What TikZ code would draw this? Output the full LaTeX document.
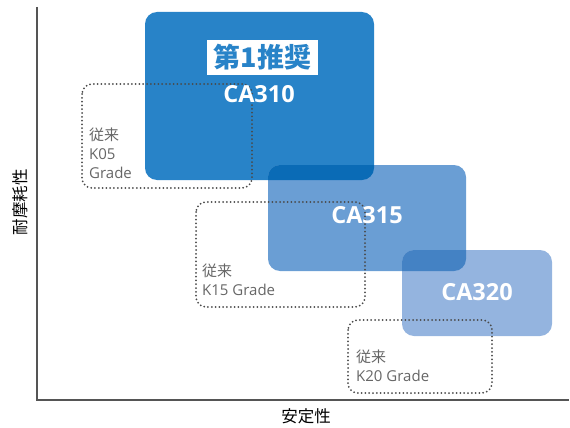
\documentclass[tikz,border=0pt]{standalone}
\usepackage{fontspec}
\setmainfont{Open Sans}
\newfontfamily\jp{Noto Sans CJK JP}
\definecolor{c310}{HTML}{2883C8}
\definecolor{c315}{HTML}{6A9ED4}
\definecolor{c320}{HTML}{94B4DF}
\definecolor{o1}{HTML}{0A6BB6}
\definecolor{o2}{HTML}{4482C4}
\definecolor{axisgray}{HTML}{555555}
\definecolor{dotgray}{HTML}{4A4A4A}
\definecolor{txtgray}{HTML}{666666}
\tikzset{
  prodbox/.style={rounded corners=12pt},
  oldbox/.style={draw=dotgray, line width=2pt, line cap=round, dash pattern=on 0pt off 3.8pt, rounded corners=10pt},
  prodlabel/.style={text=white, font=\bfseries\fontsize{23.5}{26}\selectfont, inner sep=0pt},
  oldlabel/.style={text=txtgray, font=\fontsize{15}{19}\selectfont, align=left, anchor=north west, inner sep=0pt},
  axislabel/.style={text=black, font=\jp\fontsize{16.5}{18}\selectfont, inner sep=0pt},
}
\begin{document}
\begin{tikzpicture}[x=1pt,y=-1pt]
\useasboundingbox (0,0) rectangle (570,428);
% axes
\coordinate (top) at (37,7);
\coordinate (origin) at (37,400);
\coordinate (right) at (569,400);
\draw[axisgray, line width=1.6pt] (top) -- (origin) -- (right);
% product boxes
\fill[c310, prodbox] (145,12) rectangle (374,180);
\fill[c315, prodbox] (268,165) rectangle (466,271);
\begin{scope}
  \clip[prodbox] (145,12) rectangle (374,180);
  \fill[o1, prodbox] (268,165) rectangle (466,271);
\end{scope}
\fill[c320, prodbox] (402,250) rectangle (552,336);
\begin{scope}
  \clip[prodbox] (268,165) rectangle (466,271);
  \fill[o2, prodbox] (402,250) rectangle (552,336);
\end{scope}
% old grade dotted boxes
\draw[oldbox] (82,84) rectangle (252,188);
\draw[oldbox] (196,202) rectangle (365,307);
\draw[oldbox] (348,320) rectangle (492,393);
% labels
\node[fill=white, text=c310, font=\jp\bfseries\fontsize{27}{29}\selectfont, inner sep=0pt, minimum width=111pt, minimum height=35pt] (rec) at (262.5,57.5) {第1推奨};
\node[prodlabel] (l310) at (259,94) {CA310};
\node[prodlabel] (l315) at (367,215) {CA315};
\node[prodlabel] (l320) at (477,292) {CA320};
\node[oldlabel] (t05) at (89,128) {{\jp 従来}\\K05\\Grade};
\node[oldlabel] (t15) at (202,264) {{\jp 従来}\\K15 Grade};
\node[oldlabel] (t20) at (356,350) {{\jp 従来}\\K20 Grade};
\node[axislabel] (xl) at (306,416) {安定性};
\node[axislabel, rotate=90] (yl) at (20,202) {耐摩耗性};
\end{tikzpicture}
\end{document}
